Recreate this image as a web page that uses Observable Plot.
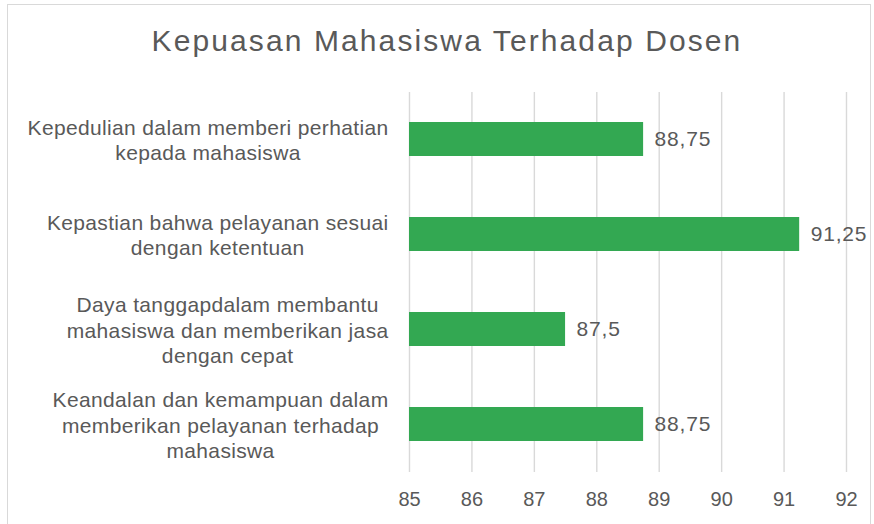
<!DOCTYPE html>
<html>
<head>
<meta charset="utf-8">
<script src="https://cdn.jsdelivr.net/npm/d3@7"></script>
<script src="https://cdn.jsdelivr.net/npm/@observablehq/plot@0.6"></script>
<style>
  html, body { margin: 0; padding: 0; background: #ffffff; }
  #wrap { position: relative; width: 874px; height: 524px; overflow: hidden; font-family: "Liberation Sans", Arial, sans-serif; }
  #frame { position: absolute; left: 7px; top: 4px; width: 864px; height: 540px; border: 1.5px solid #d9d9d9; box-sizing: border-box; }
  #title { position: absolute; left: 10px; top: 26px; width: 874px; text-align: center; font-size: 30px; line-height: 30px; letter-spacing: 2.1px; color: #595959; white-space: nowrap; }
  #chart { position: absolute; left: 0; top: 85px; }
  #chart g[aria-label="y-axis tick label"] text { letter-spacing: 0.35px; }
  #chart g[aria-label="text"] text { letter-spacing: 0.8px; }
</style>
</head>
<body>
<div id="wrap">
  <div id="frame"></div>
  <div id="title">Kepuasan Mahasiswa Terhadap Dosen</div>
  <div id="chart"></div>
</div>
<script>
const chartTitle = "Kepuasan Mahasiswa Terhadap Dosen";
const categories = [
  "Kepedulian dalam memberi perhatian\nkepada mahasiswa",
  "Kepastian bahwa pelayanan sesuai\ndengan ketentuan",
  "Daya tanggapdalam membantu\nmahasiswa dan memberikan jasa\ndengan cepat",
  "Keandalan dan kemampuan dalam\nmemberikan pelayanan terhadap\nmahasiswa"
];
const values = [88.75, 91.25, 87.5, 88.75];
const xTicks = [85, 86, 87, 88, 89, 90, 91, 92];
const baseline = 85;

const data = categories.map((c, i) => ({category: c, value: values[i], base: baseline}));
const fmt = v => String(v).replace(".", ",");

const plot = Plot.plot({
  width: 874,
  height: 439,
  marginTop: 7,
  marginBottom: 52,
  marginLeft: 409,
  marginRight: 28,
  style: {fontFamily: '"Liberation Sans", Arial, sans-serif', color: "#595959", background: "transparent"},
  x: {domain: [xTicks[0], xTicks[xTicks.length - 1]], ticks: xTicks},
  y: {domain: categories, paddingInner: 0.64, paddingOuter: 0.32},
  marks: [
    Plot.gridX(xTicks, {stroke: "#d9d9d9", strokeOpacity: 1, strokeWidth: 1.4}),
    Plot.barX(data, {x1: "base", x2: "value", y: "category", fill: "#33a852"}),
    Plot.text(data, {x: "value", y: "category", text: d => fmt(d.value), textAnchor: "start", dx: 11, fontSize: 21, fill: "#595959"}),
    Plot.axisX(xTicks, {tickSize: 0, tickPadding: 19, fontSize: 20, tickFormat: d => String(d), label: null}),
    Plot.axisY({tickSize: 0, tickPadding: 21, fontSize: 21, lineHeight: 1.2, label: null, textAnchor: "end"})
  ]
});
document.getElementById("chart").appendChild(plot);

// center each multi-line y label block, keeping it right-aligned to the axis
const yLabels = plot.querySelectorAll('g[aria-label="y-axis tick label"] text');
yLabels.forEach(t => {
  const w = t.getBBox().width;
  t.setAttribute("text-anchor", "middle");
  const tr = t.getAttribute("transform") || "";
  t.setAttribute("transform", tr + ` translate(${-w / 2},0)`);
});
</script>
</body>
</html>
